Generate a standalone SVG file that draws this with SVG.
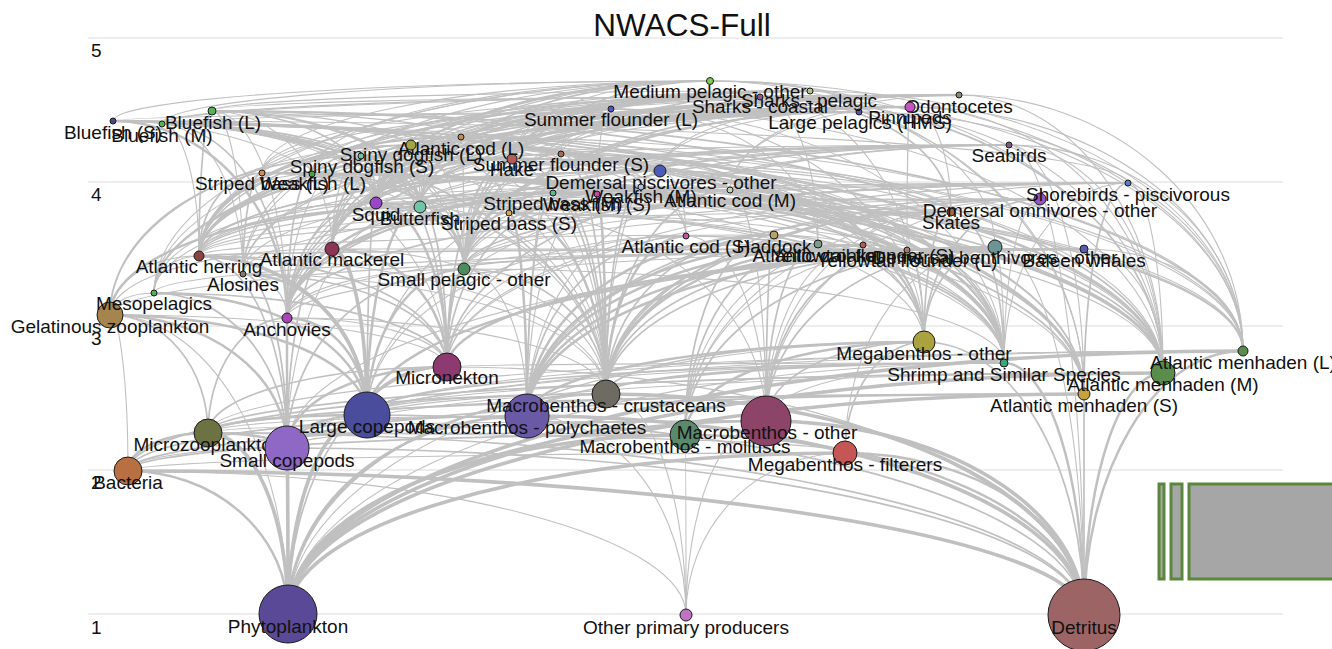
<svg xmlns="http://www.w3.org/2000/svg" width="1332" height="649" viewBox="0 0 1332 649">
<style>
.grid line{stroke:#dcdcdc;stroke-width:1}
.edges path{fill:none;stroke:#c0c0c0}
.w1{stroke-width:1.1}
.w2{stroke-width:1.7}
.w3{stroke-width:2.5}
.w4{stroke-width:3.6}
.node circle{stroke:#1a1a1a;stroke-width:1}
text{font-family:"Liberation Sans",Arial,Helvetica,sans-serif;fill:#111}
.lb{font-size:19px;text-anchor:middle}
.ax{font-size:19px}
.leg rect{fill:#a6a6a6;stroke:#5a873c;stroke-width:3}
</style>
<rect width="1332" height="649" fill="#fff"/>
<g class="grid">
<line x1="88" y1="38" x2="1283" y2="38"/>
<line x1="88" y1="182" x2="1283" y2="182"/>
<line x1="88" y1="326" x2="1283" y2="326"/>
<line x1="88" y1="470" x2="1283" y2="470"/>
<line x1="88" y1="614" x2="1283" y2="614"/>
</g>
<g class="axis">
<text class="ax" x="91" y="57">5</text>
<text class="ax" x="91" y="201">4</text>
<text class="ax" x="91" y="345">3</text>
<text class="ax" x="91" y="489">2</text>
<text class="ax" x="91" y="634">1</text>
</g>
<text x="682" y="36" font-size="31.5" text-anchor="middle">NWACS-Full</text>
<g class="leg">
<rect x="1159" y="484" width="5" height="95"/>
<rect x="1171" y="484" width="11" height="95"/>
<rect x="1189" y="484" width="160" height="95"/>
</g>
<g class="edges" id="connectors">
<path class="w4" d="M1084 615A956 144 0 0 0 128 471"/>
<path class="w3" d="M288 614A160 143 0 0 0 128 471"/>
<path class="w1" d="M686 615A558 144 0 0 0 128 471"/>
<path class="w4" d="M288 614A80 181 0 0 0 208 433"/>
<path class="w3" d="M128 471A80 38 0 0 1 208 433"/>
<path class="w2" d="M1084 615A876 182 0 0 0 208 433"/>
<path class="w4" d="M288 614A1 166 0 0 0 287 448"/>
<path class="w3" d="M287 448A79 15 0 0 0 208 433"/>
<path class="w2" d="M1084 615A797 167 0 0 0 287 448"/>
<path class="w1" d="M128 471A159 23 0 0 1 287 448"/>
<path class="w4" d="M288 614A79 199 0 0 1 367 415"/>
<path class="w3" d="M208 433A159 18 0 0 1 367 415"/>
<path class="w2" d="M287 448A80 33 0 0 1 367 415"/>
<path class="w2" d="M1084 615A717 200 0 0 0 367 415"/>
<path class="w3" d="M287 448A177 133 0 0 0 110 315"/>
<path class="w3" d="M367 415A257 100 0 0 0 110 315"/>
<path class="w2" d="M208 433A98 118 0 0 0 110 315"/>
<path class="w1" d="M288 614A178 299 0 0 0 110 315"/>
<path class="w1" d="M128 471A18 156 0 0 0 110 315"/>
<path class="w1" d="M447 367A337 52 0 0 0 110 315"/>
<path class="w3" d="M287 448A160 81 0 0 1 447 367"/>
<path class="w3" d="M367 415A80 48 0 0 1 447 367"/>
<path class="w2" d="M288 614A159 247 0 0 1 447 367"/>
<path class="w2" d="M208 433A239 66 0 0 1 447 367"/>
<path class="w1" d="M1084 615A637 248 0 0 0 447 367"/>
<path class="w4" d="M1084 615A557 199 0 0 0 527 416"/>
<path class="w3" d="M288 614A239 198 0 0 1 527 416"/>
<path class="w2" d="M128 471A399 55 0 0 1 527 416"/>
<path class="w1" d="M208 433A319 17 0 0 1 527 416"/>
<path class="w1" d="M686 615A159 199 0 0 0 527 416"/>
<path class="w1" d="M287 448A240 32 0 0 1 527 416"/>
<path class="w4" d="M1084 615A478 221 0 0 0 606 394"/>
<path class="w3" d="M288 614A318 220 0 0 1 606 394"/>
<path class="w2" d="M128 471A478 77 0 0 1 606 394"/>
<path class="w1" d="M527 416A79 22 0 0 1 606 394"/>
<path class="w1" d="M686 615A80 221 0 0 0 606 394"/>
<path class="w1" d="M287 448A319 54 0 0 1 606 394"/>
<path class="w1" d="M367 415A239 21 0 0 1 606 394"/>
<path class="w4" d="M288 614A397 179 0 0 1 685 435"/>
<path class="w3" d="M1084 615A399 180 0 0 0 685 435"/>
<path class="w2" d="M128 471A557 36 0 0 1 685 435"/>
<path class="w1" d="M686 615A1 180 0 0 0 685 435"/>
<path class="w1" d="M685 435A477 2 0 0 0 208 433"/>
<path class="w4" d="M1084 615A318 194 0 0 0 766 421"/>
<path class="w3" d="M288 614A478 193 0 0 1 766 421"/>
<path class="w2" d="M128 471A638 50 0 0 1 766 421"/>
<path class="w1" d="M686 615A80 194 0 0 1 766 421"/>
<path class="w1" d="M208 433A558 12 0 0 1 766 421"/>
<path class="w1" d="M287 448A479 27 0 0 1 766 421"/>
<path class="w4" d="M288 614A557 161 0 0 1 845 453"/>
<path class="w3" d="M1084 615A239 162 0 0 0 845 453"/>
<path class="w1" d="M128 471A717 18 0 0 1 845 453"/>
<path class="w1" d="M845 453A637 20 0 0 0 208 433"/>
<path class="w1" d="M686 615A159 162 0 0 1 845 453"/>
<path class="w3" d="M527 416A397 74 0 0 1 924 342"/>
<path class="w2" d="M606 394A318 52 0 0 1 924 342"/>
<path class="w3" d="M685 435A239 93 0 0 1 924 342"/>
<path class="w2" d="M766 421A158 79 0 0 1 924 342"/>
<path class="w2" d="M1084 615A160 273 0 0 0 924 342"/>
<path class="w2" d="M845 453A79 111 0 0 1 924 342"/>
<path class="w1" d="M288 614A636 272 0 0 1 924 342"/>
<path class="w3" d="M1084 615A80 252 0 0 0 1004 363"/>
<path class="w2" d="M527 416A477 53 0 0 1 1004 363"/>
<path class="w2" d="M606 394A398 31 0 0 1 1004 363"/>
<path class="w2" d="M367 415A637 52 0 0 1 1004 363"/>
<path class="w1" d="M287 448A717 85 0 0 1 1004 363"/>
<path class="w1" d="M288 614A716 251 0 0 1 1004 363"/>
<path class="w1" d="M766 421A238 58 0 0 1 1004 363"/>
<path class="w1" d="M447 367A557 4 0 0 1 1004 363"/>
<path class="w4" d="M288 614A796 220 0 0 1 1084 394"/>
<path class="w2" d="M1084 615L1084 394"/>
<path class="w2" d="M208 433A876 39 0 0 1 1084 394"/>
<path class="w2" d="M287 448A797 54 0 0 1 1084 394"/>
<path class="w1" d="M367 415A717 21 0 0 1 1084 394"/>
<path class="w4" d="M288 614A875 241 0 0 1 1163 373"/>
<path class="w3" d="M1084 615A79 242 0 0 1 1163 373"/>
<path class="w2" d="M208 433A955 60 0 0 1 1163 373"/>
<path class="w1" d="M287 448A876 75 0 0 1 1163 373"/>
<path class="w1" d="M367 415A796 42 0 0 1 1163 373"/>
<path class="w4" d="M288 614A955 263 0 0 1 1243 351"/>
<path class="w3" d="M1084 615A159 264 0 0 1 1243 351"/>
<path class="w1" d="M208 433A1035 82 0 0 1 1243 351"/>
<path class="w1" d="M287 448A956 97 0 0 1 1243 351"/>
<path class="w1" d="M367 415A876 64 0 0 1 1243 351"/>
<path class="w3" d="M367 415A213 122 0 0 0 154 293"/>
<path class="w2" d="M287 448A133 155 0 0 0 154 293"/>
<path class="w2" d="M447 367A293 74 0 0 0 154 293"/>
<path class="w1" d="M110 315A44 22 0 0 1 154 293"/>
<path class="w3" d="M287 448L287 318"/>
<path class="w3" d="M367 415A80 97 0 0 0 287 318"/>
<path class="w2" d="M208 433A79 115 0 0 1 287 318"/>
<path class="w1" d="M447 367A160 49 0 0 0 287 318"/>
<path class="w1" d="M288 614A1 296 0 0 0 287 318"/>
<path class="w1" d="M606 394A319 76 0 0 0 287 318"/>
<path class="w4" d="M367 415A168 159 0 0 0 199 256"/>
<path class="w2" d="M287 448A88 192 0 0 0 199 256"/>
<path class="w2" d="M447 367A248 111 0 0 0 199 256"/>
<path class="w1" d="M110 315A89 59 0 0 1 199 256"/>
<path class="w1" d="M606 394A407 138 0 0 0 199 256"/>
<path class="w1" d="M154 293A45 37 0 0 1 199 256"/>
<path class="w3" d="M367 415A124 141 0 0 0 243 274"/>
<path class="w2" d="M287 448A44 174 0 0 0 243 274"/>
<path class="w2" d="M447 367A204 93 0 0 0 243 274"/>
<path class="w1" d="M606 394A363 120 0 0 0 243 274"/>
<path class="w1" d="M287 318A44 44 0 0 0 243 274"/>
<path class="w4" d="M367 415A35 166 0 0 0 332 249"/>
<path class="w2" d="M287 448A45 199 0 0 1 332 249"/>
<path class="w3" d="M447 367A115 118 0 0 0 332 249"/>
<path class="w1" d="M110 315A222 66 0 0 1 332 249"/>
<path class="w1" d="M287 318A45 69 0 0 1 332 249"/>
<path class="w1" d="M332 249A44 46 0 0 1 376 203"/>
<path class="w1" d="M606 394A274 145 0 0 0 332 249"/>
<path class="w3" d="M367 415A97 146 0 0 1 464 269"/>
<path class="w2" d="M287 448A177 179 0 0 1 464 269"/>
<path class="w2" d="M447 367A17 98 0 0 1 464 269"/>
<path class="w2" d="M606 394A142 125 0 0 0 464 269"/>
<path class="w1" d="M527 416A63 147 0 0 0 464 269"/>
<path class="w1" d="M287 318A177 49 0 0 1 464 269"/>
<path class="w1" d="M1004 363A540 94 0 0 0 464 269"/>
<path class="w3" d="M447 367A71 164 0 0 0 376 203"/>
<path class="w2" d="M367 415A9 212 0 0 1 376 203"/>
<path class="w2" d="M287 318A89 115 0 0 1 376 203"/>
<path class="w1" d="M199 256A177 53 0 0 1 376 203"/>
<path class="w2" d="M464 269A88 66 0 0 0 376 203"/>
<path class="w1" d="M420 207A44 4 0 0 0 376 203"/>
<path class="w1" d="M606 394A230 191 0 0 0 376 203"/>
<path class="w1" d="M1004 363A628 160 0 0 0 376 203"/>
<path class="w1" d="M154 293A222 90 0 0 1 376 203"/>
<path class="w3" d="M367 415A53 208 0 0 1 420 207"/>
<path class="w3" d="M110 315A310 108 0 0 1 420 207"/>
<path class="w2" d="M447 367A27 160 0 0 0 420 207"/>
<path class="w1" d="M287 448A133 241 0 0 1 420 207"/>
<path class="w1" d="M606 394A186 187 0 0 0 420 207"/>
<path class="w1" d="M287 318A133 111 0 0 1 420 207"/>
<path class="w3" d="M527 416A18 203 0 0 0 509 213"/>
<path class="w3" d="M606 394A97 181 0 0 0 509 213"/>
<path class="w2" d="M1004 363A495 150 0 0 0 509 213"/>
<path class="w2" d="M287 318A222 105 0 0 1 509 213"/>
<path class="w1" d="M447 367A62 154 0 0 1 509 213"/>
<path class="w1" d="M1084 394A575 181 0 0 0 509 213"/>
<path class="w1" d="M766 421A257 208 0 0 0 509 213"/>
<path class="w1" d="M1163 373A654 160 0 0 0 509 213"/>
<path class="w2" d="M1084 394A531 201 0 0 0 553 193"/>
<path class="w2" d="M1163 373A610 180 0 0 0 553 193"/>
<path class="w1" d="M1243 351A690 158 0 0 0 553 193"/>
<path class="w2" d="M287 318A266 125 0 0 1 553 193"/>
<path class="w2" d="M606 394A53 201 0 0 0 553 193"/>
<path class="w2" d="M527 416A26 223 0 0 1 553 193"/>
<path class="w1" d="M1004 363A451 170 0 0 0 553 193"/>
<path class="w1" d="M199 256A354 63 0 0 1 553 193"/>
<path class="w1" d="M243 274A310 81 0 0 1 553 193"/>
<path class="w1" d="M464 269A89 76 0 0 1 553 193"/>
<path class="w3" d="M1163 373A901 200 0 0 0 262 173"/>
<path class="w2" d="M1243 351A981 178 0 0 0 262 173"/>
<path class="w2" d="M199 256A63 83 0 0 1 262 173"/>
<path class="w2" d="M243 274A19 101 0 0 1 262 173"/>
<path class="w1" d="M376 203A114 30 0 0 0 262 173"/>
<path class="w1" d="M464 269A202 96 0 0 0 262 173"/>
<path class="w1" d="M606 394A344 221 0 0 0 262 173"/>
<path class="w1" d="M924 342A662 169 0 0 0 262 173"/>
<path class="w1" d="M420 207A158 34 0 0 0 262 173"/>
<path class="w3" d="M606 394A9 200 0 0 0 597 194"/>
<path class="w3" d="M1004 363A407 169 0 0 0 597 194"/>
<path class="w2" d="M447 367A150 173 0 0 1 597 194"/>
<path class="w2" d="M287 318A310 124 0 0 1 597 194"/>
<path class="w1" d="M527 416A70 222 0 0 1 597 194"/>
<path class="w1" d="M367 415A230 221 0 0 1 597 194"/>
<path class="w3" d="M287 318A354 131 0 0 1 641 187"/>
<path class="w2" d="M1004 363A363 176 0 0 0 641 187"/>
<path class="w2" d="M606 394A35 207 0 0 1 641 187"/>
<path class="w2" d="M1084 394A443 207 0 0 0 641 187"/>
<path class="w1" d="M1163 373A522 186 0 0 0 641 187"/>
<path class="w1" d="M464 269A177 82 0 0 1 641 187"/>
<path class="w1" d="M420 207A221 20 0 0 1 641 187"/>
<path class="w1" d="M376 203A265 16 0 0 1 641 187"/>
<path class="w2" d="M287 318A25 144 0 0 1 312 174"/>
<path class="w2" d="M1084 394A772 220 0 0 0 312 174"/>
<path class="w2" d="M1163 373A851 199 0 0 0 312 174"/>
<path class="w1" d="M1243 351A931 177 0 0 0 312 174"/>
<path class="w2" d="M420 207A108 33 0 0 0 312 174"/>
<path class="w2" d="M376 203A64 29 0 0 0 312 174"/>
<path class="w1" d="M464 269A152 95 0 0 0 312 174"/>
<path class="w1" d="M1004 363A692 189 0 0 0 312 174"/>
<path class="w1" d="M199 256A113 82 0 0 1 312 174"/>
<path class="w3" d="M287 318A174 197 0 0 0 113 121"/>
<path class="w2" d="M464 269A351 148 0 0 0 113 121"/>
<path class="w2" d="M1004 363A891 242 0 0 0 113 121"/>
<path class="w2" d="M606 394A493 273 0 0 0 113 121"/>
<path class="w2" d="M1084 394A971 273 0 0 0 113 121"/>
<path class="w1" d="M1163 373A1050 252 0 0 0 113 121"/>
<path class="w1" d="M376 203A263 82 0 0 0 113 121"/>
<path class="w1" d="M420 207A307 86 0 0 0 113 121"/>
<path class="w1" d="M447 367A334 246 0 0 0 113 121"/>
<path class="w2" d="M287 318A125 194 0 0 0 162 124"/>
<path class="w2" d="M420 207A258 83 0 0 0 162 124"/>
<path class="w2" d="M376 203A214 79 0 0 0 162 124"/>
<path class="w2" d="M1084 394A922 270 0 0 0 162 124"/>
<path class="w2" d="M1163 373A1001 249 0 0 0 162 124"/>
<path class="w1" d="M1243 351A1081 227 0 0 0 162 124"/>
<path class="w2" d="M464 269A302 145 0 0 0 162 124"/>
<path class="w1" d="M199 256A37 132 0 0 0 162 124"/>
<path class="w1" d="M243 274A81 150 0 0 0 162 124"/>
<path class="w1" d="M1004 363A842 239 0 0 0 162 124"/>
<path class="w2" d="M1163 373A951 262 0 0 0 212 111"/>
<path class="w2" d="M1243 351A1031 240 0 0 0 212 111"/>
<path class="w2" d="M376 203A164 92 0 0 0 212 111"/>
<path class="w2" d="M420 207A208 96 0 0 0 212 111"/>
<path class="w2" d="M199 256A13 145 0 0 1 212 111"/>
<path class="w1" d="M332 249A120 138 0 0 0 212 111"/>
<path class="w1" d="M243 274A31 163 0 0 0 212 111"/>
<path class="w1" d="M287 318A75 207 0 0 0 212 111"/>
<path class="w1" d="M464 269A252 158 0 0 0 212 111"/>
<path class="w1" d="M597 194A385 83 0 0 0 212 111"/>
<path class="w1" d="M509 213A297 102 0 0 0 212 111"/>
<path class="w3" d="M606 394A80 158 0 0 1 686 236"/>
<path class="w2" d="M527 416A159 180 0 0 1 686 236"/>
<path class="w2" d="M1004 363A318 127 0 0 0 686 236"/>
<path class="w1" d="M367 415A319 179 0 0 1 686 236"/>
<path class="w1" d="M766 421A80 185 0 0 0 686 236"/>
<path class="w1" d="M447 367A239 131 0 0 1 686 236"/>
<path class="w2" d="M606 394A124 204 0 0 1 730 190"/>
<path class="w2" d="M924 342A194 152 0 0 0 730 190"/>
<path class="w2" d="M199 256A531 66 0 0 1 730 190"/>
<path class="w1" d="M464 269A266 79 0 0 1 730 190"/>
<path class="w1" d="M376 203A354 13 0 0 1 730 190"/>
<path class="w1" d="M527 416A203 226 0 0 1 730 190"/>
<path class="w1" d="M1004 363A274 173 0 0 0 730 190"/>
<path class="w1" d="M420 207A310 17 0 0 1 730 190"/>
<path class="w1" d="M766 421A36 231 0 0 0 730 190"/>
<path class="w3" d="M199 256A262 119 0 0 1 461 137"/>
<path class="w2" d="M924 342A463 205 0 0 0 461 137"/>
<path class="w2" d="M376 203A85 66 0 0 1 461 137"/>
<path class="w1" d="M332 249A129 112 0 0 1 461 137"/>
<path class="w1" d="M512 159A51 22 0 0 0 461 137"/>
<path class="w1" d="M464 269A3 132 0 0 0 461 137"/>
<path class="w1" d="M420 207A41 70 0 0 1 461 137"/>
<path class="w1" d="M686 236A225 99 0 0 0 461 137"/>
<path class="w1" d="M606 394A145 257 0 0 0 461 137"/>
<path class="w1" d="M863 245A402 108 0 0 0 461 137"/>
<path class="w1" d="M1243 351A782 214 0 0 0 461 137"/>
<path class="w3" d="M527 416A247 181 0 0 1 774 235"/>
<path class="w2" d="M766 421A8 186 0 0 1 774 235"/>
<path class="w2" d="M606 394A168 159 0 0 1 774 235"/>
<path class="w2" d="M924 342A150 107 0 0 0 774 235"/>
<path class="w2" d="M685 435A89 200 0 0 1 774 235"/>
<path class="w1" d="M1004 363A230 128 0 0 0 774 235"/>
<path class="w1" d="M199 256A575 21 0 0 1 774 235"/>
<path class="w3" d="M527 416A291 172 0 0 1 818 244"/>
<path class="w2" d="M606 394A212 150 0 0 1 818 244"/>
<path class="w2" d="M685 435A133 191 0 0 1 818 244"/>
<path class="w2" d="M766 421A52 177 0 0 1 818 244"/>
<path class="w1" d="M1004 363A186 119 0 0 0 818 244"/>
<path class="w1" d="M287 318A531 74 0 0 1 818 244"/>
<path class="w3" d="M527 416A336 171 0 0 1 863 245"/>
<path class="w3" d="M606 394A257 149 0 0 1 863 245"/>
<path class="w1" d="M766 421A97 176 0 0 1 863 245"/>
<path class="w1" d="M1004 363A141 118 0 0 0 863 245"/>
<path class="w1" d="M685 435A178 190 0 0 1 863 245"/>
<path class="w3" d="M527 416A380 166 0 0 1 907 250"/>
<path class="w2" d="M606 394A301 144 0 0 1 907 250"/>
<path class="w2" d="M766 421A141 171 0 0 1 907 250"/>
<path class="w1" d="M1004 363A97 113 0 0 0 907 250"/>
<path class="w1" d="M685 435A222 185 0 0 1 907 250"/>
<path class="w1" d="M924 342A17 92 0 0 0 907 250"/>
<path class="w3" d="M527 416A468 169 0 0 1 995 247"/>
<path class="w2" d="M606 394A389 147 0 0 1 995 247"/>
<path class="w2" d="M766 421A229 174 0 0 1 995 247"/>
<path class="w2" d="M685 435A310 188 0 0 1 995 247"/>
<path class="w2" d="M924 342A71 95 0 0 1 995 247"/>
<path class="w1" d="M845 453A150 206 0 0 1 995 247"/>
<path class="w1" d="M1004 363A9 116 0 0 0 995 247"/>
<path class="w1" d="M1084 615A89 368 0 0 0 995 247"/>
<path class="w2" d="M924 342A27 130 0 0 1 951 212"/>
<path class="w2" d="M606 394A345 182 0 0 1 951 212"/>
<path class="w2" d="M527 416A424 204 0 0 1 951 212"/>
<path class="w2" d="M1004 363A53 151 0 0 0 951 212"/>
<path class="w1" d="M199 256A752 44 0 0 1 951 212"/>
<path class="w1" d="M464 269A487 57 0 0 1 951 212"/>
<path class="w1" d="M951 212A575 9 0 0 0 376 203"/>
<path class="w1" d="M951 212A439 53 0 0 0 512 159"/>
<path class="w1" d="M951 212A531 5 0 0 0 420 207"/>
<path class="w1" d="M951 212A590 56 0 0 0 361 156"/>
<path class="w1" d="M766 421A185 209 0 0 1 951 212"/>
<path class="w1" d="M863 245A88 33 0 0 1 951 212"/>
<path class="w2" d="M606 394A434 195 0 0 1 1040 199"/>
<path class="w2" d="M924 342A116 143 0 0 1 1040 199"/>
<path class="w1" d="M527 416A513 217 0 0 1 1040 199"/>
<path class="w1" d="M376 203A664 4 0 0 1 1040 199"/>
<path class="w1" d="M464 269A576 70 0 0 1 1040 199"/>
<path class="w1" d="M1004 363A36 164 0 0 1 1040 199"/>
<path class="w1" d="M766 421A274 222 0 0 1 1040 199"/>
<path class="w1" d="M685 435A355 236 0 0 1 1040 199"/>
<path class="w1" d="M199 256A841 57 0 0 1 1040 199"/>
<path class="w1" d="M447 367A593 168 0 0 1 1040 199"/>
<path class="w2" d="M199 256A461 85 0 0 1 660 171"/>
<path class="w2" d="M464 269A196 98 0 0 1 660 171"/>
<path class="w2" d="M376 203A284 32 0 0 1 660 171"/>
<path class="w1" d="M420 207A240 36 0 0 1 660 171"/>
<path class="w1" d="M660 171A148 12 0 0 0 512 159"/>
<path class="w1" d="M606 394A54 223 0 0 1 660 171"/>
<path class="w1" d="M1004 363A344 192 0 0 0 660 171"/>
<path class="w1" d="M287 318A373 147 0 0 1 660 171"/>
<path class="w1" d="M924 342A264 171 0 0 0 660 171"/>
<path class="w1" d="M686 236A26 65 0 0 0 660 171"/>
<path class="w1" d="M863 245A203 74 0 0 0 660 171"/>
<path class="w1" d="M1163 373A503 202 0 0 0 660 171"/>
<path class="w2" d="M447 367A65 208 0 0 1 512 159"/>
<path class="w2" d="M1004 363A492 204 0 0 0 512 159"/>
<path class="w2" d="M199 256A313 97 0 0 1 512 159"/>
<path class="w2" d="M376 203A136 44 0 0 1 512 159"/>
<path class="w1" d="M420 207A92 48 0 0 1 512 159"/>
<path class="w1" d="M332 249A180 90 0 0 1 512 159"/>
<path class="w2" d="M606 394A94 235 0 0 0 512 159"/>
<path class="w1" d="M464 269A48 110 0 0 1 512 159"/>
<path class="w1" d="M287 318A225 159 0 0 1 512 159"/>
<path class="w1" d="M154 293A358 134 0 0 1 512 159"/>
<path class="w1" d="M1084 394A572 235 0 0 0 512 159"/>
<path class="w2" d="M606 394A45 240 0 0 0 561 154"/>
<path class="w2" d="M1004 363A443 209 0 0 0 561 154"/>
<path class="w2" d="M287 318A274 164 0 0 1 561 154"/>
<path class="w1" d="M376 203A185 49 0 0 1 561 154"/>
<path class="w1" d="M464 269A97 115 0 0 1 561 154"/>
<path class="w1" d="M527 416A34 262 0 0 1 561 154"/>
<path class="w1" d="M924 342A363 188 0 0 0 561 154"/>
<path class="w1" d="M447 367A114 213 0 0 1 561 154"/>
<path class="w2" d="M376 203A235 94 0 0 1 611 109"/>
<path class="w2" d="M464 269A147 160 0 0 1 611 109"/>
<path class="w1" d="M287 318A324 209 0 0 1 611 109"/>
<path class="w1" d="M420 207A191 98 0 0 1 611 109"/>
<path class="w1" d="M199 256A412 147 0 0 1 611 109"/>
<path class="w1" d="M924 342A313 233 0 0 0 611 109"/>
<path class="w1" d="M1004 363A393 254 0 0 0 611 109"/>
<path class="w1" d="M512 159A99 50 0 0 1 611 109"/>
<path class="w1" d="M561 154A50 45 0 0 1 611 109"/>
<path class="w1" d="M1163 373A552 264 0 0 0 611 109"/>
<path class="w1" d="M597 194A14 85 0 0 1 611 109"/>
<path class="w1" d="M818 244A207 135 0 0 0 611 109"/>
<path class="w2" d="M376 203A15 47 0 0 0 361 156"/>
<path class="w2" d="M447 367A86 211 0 0 0 361 156"/>
<path class="w2" d="M110 315A251 159 0 0 1 361 156"/>
<path class="w1" d="M606 394A245 238 0 0 0 361 156"/>
<path class="w1" d="M199 256A162 100 0 0 1 361 156"/>
<path class="w1" d="M464 269A103 113 0 0 0 361 156"/>
<path class="w1" d="M420 207A59 51 0 0 0 361 156"/>
<path class="w1" d="M287 318A74 162 0 0 1 361 156"/>
<path class="w1" d="M1004 363A643 207 0 0 0 361 156"/>
<path class="w1" d="M332 249A29 93 0 0 1 361 156"/>
<path class="w1" d="M1163 373A802 217 0 0 0 361 156"/>
<path class="w2" d="M199 256A212 111 0 0 1 411 145"/>
<path class="w2" d="M376 203A35 58 0 0 1 411 145"/>
<path class="w2" d="M332 249A79 104 0 0 1 411 145"/>
<path class="w1" d="M420 207A9 62 0 0 0 411 145"/>
<path class="w1" d="M464 269A53 124 0 0 0 411 145"/>
<path class="w1" d="M110 315A301 170 0 0 1 411 145"/>
<path class="w1" d="M512 159A101 14 0 0 0 411 145"/>
<path class="w1" d="M686 236A275 91 0 0 0 411 145"/>
<path class="w1" d="M924 342A513 197 0 0 0 411 145"/>
<path class="w1" d="M606 394A195 249 0 0 0 411 145"/>
<path class="w1" d="M243 274A168 129 0 0 1 411 145"/>
<path class="w1" d="M1243 351A832 206 0 0 0 411 145"/>
<path class="w1" d="M361 156A50 11 0 0 1 411 145"/>
<path class="w1" d="M411 145A298 24 0 0 0 113 121"/>
<path class="w1" d="M641 187A230 42 0 0 0 411 145"/>
<path class="w1" d="M907 250A496 105 0 0 0 411 145"/>
<path class="w2" d="M376 203A334 122 0 0 1 710 81"/>
<path class="w2" d="M420 207A290 126 0 0 1 710 81"/>
<path class="w1" d="M199 256A511 175 0 0 1 710 81"/>
<path class="w2" d="M332 249A378 168 0 0 1 710 81"/>
<path class="w2" d="M464 269A246 188 0 0 1 710 81"/>
<path class="w1" d="M287 318A423 237 0 0 1 710 81"/>
<path class="w1" d="M1084 394A374 313 0 0 0 710 81"/>
<path class="w1" d="M1163 373A453 292 0 0 0 710 81"/>
<path class="w1" d="M1243 351A533 270 0 0 0 710 81"/>
<path class="w1" d="M113 121A597 40 0 0 1 710 81"/>
<path class="w1" d="M162 124A548 43 0 0 1 710 81"/>
<path class="w1" d="M312 174A398 93 0 0 1 710 81"/>
<path class="w1" d="M262 173A448 92 0 0 1 710 81"/>
<path class="w1" d="M512 159A198 78 0 0 1 710 81"/>
<path class="w1" d="M243 274A467 193 0 0 1 710 81"/>
<path class="w1" d="M154 293A556 212 0 0 1 710 81"/>
<path class="w2" d="M1163 373A403 276 0 0 0 760 97"/>
<path class="w1" d="M1243 351A483 254 0 0 0 760 97"/>
<path class="w1" d="M1084 394A324 297 0 0 0 760 97"/>
<path class="w2" d="M951 212A191 115 0 0 0 760 97"/>
<path class="w1" d="M162 124A598 27 0 0 1 760 97"/>
<path class="w1" d="M212 111A548 14 0 0 1 760 97"/>
<path class="w1" d="M312 174A448 77 0 0 1 760 97"/>
<path class="w1" d="M262 173A498 76 0 0 1 760 97"/>
<path class="w1" d="M376 203A384 106 0 0 1 760 97"/>
<path class="w1" d="M199 256A561 159 0 0 1 760 97"/>
<path class="w1" d="M464 269A296 172 0 0 1 760 97"/>
<path class="w1" d="M995 247A235 150 0 0 0 760 97"/>
<path class="w1" d="M818 244A58 147 0 0 0 760 97"/>
<path class="w1" d="M361 156A399 59 0 0 1 760 97"/>
<path class="w1" d="M611 109A149 12 0 0 1 760 97"/>
<path class="w1" d="M924 342A164 245 0 0 0 760 97"/>
<path class="w1" d="M512 159A248 62 0 0 1 760 97"/>
<path class="w1" d="M420 207A340 110 0 0 1 760 97"/>
<path class="w1" d="M332 249A428 152 0 0 1 760 97"/>
<path class="w3" d="M376 203A434 112 0 0 1 810 91"/>
<path class="w2" d="M332 249A478 158 0 0 1 810 91"/>
<path class="w1" d="M212 111A598 20 0 0 1 810 91"/>
<path class="w1" d="M199 256A611 165 0 0 1 810 91"/>
<path class="w1" d="M810 91A100 10 0 0 0 710 81"/>
<path class="w1" d="M859 112A49 21 0 0 0 810 91"/>
<path class="w1" d="M411 145A399 54 0 0 1 810 91"/>
<path class="w1" d="M512 159A298 68 0 0 1 810 91"/>
<path class="w1" d="M420 207A390 116 0 0 1 810 91"/>
<path class="w1" d="M464 269A346 178 0 0 1 810 91"/>
<path class="w1" d="M154 293A656 202 0 0 1 810 91"/>
<path class="w1" d="M1243 351A433 260 0 0 0 810 91"/>
<path class="w3" d="M376 203A483 91 0 0 1 859 112"/>
<path class="w2" d="M332 249A527 137 0 0 1 859 112"/>
<path class="w2" d="M199 256A660 144 0 0 1 859 112"/>
<path class="w2" d="M420 207A439 95 0 0 1 859 112"/>
<path class="w1" d="M113 121A746 9 0 0 1 859 112"/>
<path class="w1" d="M162 124A697 12 0 0 1 859 112"/>
<path class="w1" d="M859 112A149 31 0 0 0 710 81"/>
<path class="w2" d="M464 269A395 157 0 0 1 859 112"/>
<path class="w1" d="M1163 373A304 261 0 0 0 859 112"/>
<path class="w1" d="M1243 351A384 239 0 0 0 859 112"/>
<path class="w1" d="M154 293A705 181 0 0 1 859 112"/>
<path class="w1" d="M287 318A572 206 0 0 1 859 112"/>
<path class="w1" d="M243 274A616 162 0 0 1 859 112"/>
<path class="w3" d="M199 256A711 149 0 0 1 910 107"/>
<path class="w2" d="M376 203A534 96 0 0 1 910 107"/>
<path class="w2" d="M512 159A398 52 0 0 1 910 107"/>
<path class="w1" d="M332 249A578 142 0 0 1 910 107"/>
<path class="w2" d="M464 269A446 162 0 0 1 910 107"/>
<path class="w1" d="M730 190A180 83 0 0 1 910 107"/>
<path class="w1" d="M461 137A449 30 0 0 1 910 107"/>
<path class="w1" d="M361 156A549 49 0 0 1 910 107"/>
<path class="w1" d="M420 207A490 100 0 0 1 910 107"/>
<path class="w1" d="M561 154A349 47 0 0 1 910 107"/>
<path class="w1" d="M660 171A250 64 0 0 1 910 107"/>
<path class="w1" d="M907 250A3 143 0 0 1 910 107"/>
<path class="w1" d="M243 274A667 167 0 0 1 910 107"/>
<path class="w1" d="M1243 351A333 244 0 0 0 910 107"/>
<path class="w1" d="M1163 373A253 266 0 0 0 910 107"/>
<path class="w1" d="M951 212A41 105 0 0 0 910 107"/>
<path class="w3" d="M376 203A583 108 0 0 1 959 95"/>
<path class="w2" d="M199 256A760 161 0 0 1 959 95"/>
<path class="w2" d="M332 249A627 154 0 0 1 959 95"/>
<path class="w1" d="M420 207A539 112 0 0 1 959 95"/>
<path class="w1" d="M512 159A447 64 0 0 1 959 95"/>
<path class="w2" d="M464 269A495 174 0 0 1 959 95"/>
<path class="w2" d="M154 293A805 198 0 0 1 959 95"/>
<path class="w1" d="M1243 351A284 256 0 0 0 959 95"/>
<path class="w1" d="M1163 373A204 278 0 0 0 959 95"/>
<path class="w1" d="M162 124A797 29 0 0 1 959 95"/>
<path class="w1" d="M312 174A647 79 0 0 1 959 95"/>
<path class="w1" d="M262 173A697 78 0 0 1 959 95"/>
<path class="w1" d="M243 274A716 179 0 0 1 959 95"/>
<path class="w1" d="M287 318A672 223 0 0 1 959 95"/>
<path class="w1" d="M730 190A229 95 0 0 1 959 95"/>
<path class="w1" d="M660 171A299 76 0 0 1 959 95"/>
<path class="w3" d="M367 415A717 166 0 0 1 1084 249"/>
<path class="w3" d="M447 367A637 118 0 0 1 1084 249"/>
<path class="w2" d="M199 256A885 7 0 0 1 1084 249"/>
<path class="w2" d="M464 269A620 20 0 0 1 1084 249"/>
<path class="w1" d="M287 318A797 69 0 0 1 1084 249"/>
<path class="w1" d="M332 249L1084 249"/>
<path class="w1" d="M287 448A797 199 0 0 1 1084 249"/>
<path class="w1" d="M1163 373A79 124 0 0 0 1084 249"/>
<path class="w1" d="M1243 351A159 102 0 0 0 1084 249"/>
<path class="w1" d="M154 293A930 44 0 0 1 1084 249"/>
<path class="w1" d="M110 315A974 66 0 0 1 1084 249"/>
<path class="w2" d="M287 318A722 173 0 0 1 1009 145"/>
<path class="w1" d="M199 256A810 111 0 0 1 1009 145"/>
<path class="w2" d="M464 269A545 124 0 0 1 1009 145"/>
<path class="w2" d="M376 203A633 58 0 0 1 1009 145"/>
<path class="w2" d="M447 367A562 222 0 0 1 1009 145"/>
<path class="w1" d="M1084 394A75 249 0 0 0 1009 145"/>
<path class="w1" d="M1163 373A154 228 0 0 0 1009 145"/>
<path class="w1" d="M1243 351A234 206 0 0 0 1009 145"/>
<path class="w1" d="M154 293A855 148 0 0 1 1009 145"/>
<path class="w1" d="M509 213A500 68 0 0 1 1009 145"/>
<path class="w1" d="M597 194A412 49 0 0 1 1009 145"/>
<path class="w1" d="M420 207A589 62 0 0 1 1009 145"/>
<path class="w1" d="M512 159A497 14 0 0 1 1009 145"/>
<path class="w1" d="M1084 615A75 470 0 0 0 1009 145"/>
<path class="w1" d="M367 415A642 270 0 0 1 1009 145"/>
<path class="w2" d="M287 318A841 135 0 0 1 1128 183"/>
<path class="w2" d="M1084 394A44 211 0 0 1 1128 183"/>
<path class="w1" d="M1163 373A35 190 0 0 0 1128 183"/>
<path class="w2" d="M464 269A664 86 0 0 1 1128 183"/>
<path class="w1" d="M1004 363A124 180 0 0 1 1128 183"/>
<path class="w1" d="M199 256A929 73 0 0 1 1128 183"/>
<path class="w1" d="M243 274A885 91 0 0 1 1128 183"/>
<path class="w1" d="M420 207A708 24 0 0 1 1128 183"/>
<path class="w1" d="M447 367A681 184 0 0 1 1128 183"/>
<path class="w1" d="M606 394A522 211 0 0 1 1128 183"/>
<path class="w1" d="M1128 183A1015 62 0 0 0 113 121"/>
<path class="w1" d="M597 194A531 11 0 0 1 1128 183"/>
</g>
<g class="nodes">
<g class="node" id="n-phyto"><circle cx="288" cy="614" r="29" fill="#5a4996"/><text class="lb" x="288" y="633">Phytoplankton</text></g>
<g class="node" id="n-opp"><circle cx="686" cy="615" r="6" fill="#c172c4"/><text class="lb" x="686" y="634">Other primary producers</text></g>
<g class="node" id="n-det"><circle cx="1084" cy="615" r="36" fill="#9c6464"/><text class="lb" x="1084" y="634">Detritus</text></g>
<g class="node" id="n-bact"><circle cx="128" cy="471" r="14" fill="#b87043"/><text class="lb" x="128" y="489">Bacteria</text></g>
<g class="node" id="n-micro"><circle cx="208" cy="433" r="14" fill="#6c7242"/><text class="lb" x="208" y="451">Microzooplankton</text></g>
<g class="node" id="n-scop"><circle cx="287" cy="448" r="22" fill="#8e68c4"/><text class="lb" x="287" y="467">Small copepods</text></g>
<g class="node" id="n-lcop"><circle cx="367" cy="415" r="23" fill="#4a4c9c"/><text class="lb" x="367" y="433">Large copepods</text></g>
<g class="node" id="n-gel"><circle cx="110" cy="315" r="13" fill="#a6844e"/><text class="lb" x="110" y="333">Gelatinous zooplankton</text></g>
<g class="node" id="n-micron"><circle cx="447" cy="367" r="14" fill="#8c3a70"/><text class="lb" x="447" y="384">Micronekton</text></g>
<g class="node" id="n-mpoly"><circle cx="527" cy="416" r="22" fill="#6a5aa6"/><text class="lb" x="527" y="434">Macrobenthos - polychaetes</text></g>
<g class="node" id="n-mcrus"><circle cx="606" cy="394" r="14" fill="#6e6b62"/><text class="lb" x="606" y="412">Macrobenthos - crustaceans</text></g>
<g class="node" id="n-mmoll"><circle cx="685" cy="435" r="15" fill="#5a8a6c"/><text class="lb" x="685" y="453">Macrobenthos - molluscs</text></g>
<g class="node" id="n-mother"><circle cx="766" cy="421" r="25" fill="#8c4468"/><text class="lb" x="767" y="439">Macrobenthos - other</text></g>
<g class="node" id="n-megaf"><circle cx="845" cy="453" r="12" fill="#c45656"/><text class="lb" x="845" y="471">Megabenthos - filterers</text></g>
<g class="node" id="n-megao"><circle cx="924" cy="342" r="11" fill="#aaa23e"/><text class="lb" x="924" y="360">Megabenthos - other</text></g>
<g class="node" id="n-shrimp"><circle cx="1004" cy="363" r="4" fill="#3aa67c"/><text class="lb" x="1004" y="381">Shrimp and Similar Species</text></g>
<g class="node" id="n-menS"><circle cx="1084" cy="394" r="6" fill="#c4a23e"/><text class="lb" x="1084" y="412">Atlantic menhaden (S)</text></g>
<g class="node" id="n-menM"><circle cx="1163" cy="373" r="12" fill="#5a8c4c"/><text class="lb" x="1163" y="391">Atlantic menhaden (M)</text></g>
<g class="node" id="n-menL"><circle cx="1243" cy="351" r="5" fill="#5a8c4c"/><text class="lb" x="1243" y="369">Atlantic menhaden (L)</text></g>
<g class="node" id="n-meso"><circle cx="154" cy="293" r="3" fill="#52b052"/><text class="lb" x="154" y="310">Mesopelagics</text></g>
<g class="node" id="n-anch"><circle cx="287" cy="318" r="5" fill="#a846b8"/><text class="lb" x="287" y="336">Anchovies</text></g>
<g class="node" id="n-herr"><circle cx="199" cy="256" r="5" fill="#8c4444"/><text class="lb" x="199" y="273">Atlantic herring</text></g>
<g class="node" id="n-alos"><circle cx="243" cy="274" r="3" fill="#7a7a72"/><text class="lb" x="243" y="291">Alosines</text></g>
<g class="node" id="n-mack"><circle cx="332" cy="249" r="7" fill="#8c3454"/><text class="lb" x="332" y="266">Atlantic mackerel</text></g>
<g class="node" id="n-spel"><circle cx="464" cy="269" r="6" fill="#4c8c5c"/><text class="lb" x="464" y="286">Small pelagic - other</text></g>
<g class="node" id="n-squid"><circle cx="376" cy="203" r="6" fill="#9a46c8"/><text class="lb" x="376" y="221">Squid</text></g>
<g class="node" id="n-butter"><circle cx="420" cy="207" r="6" fill="#72c4a6"/><text class="lb" x="420" y="225">Butterfish</text></g>
<g class="node" id="n-sbS"><circle cx="509" cy="213" r="3" fill="#d4a656"/><text class="lb" x="509" y="230">Striped bass (S)</text></g>
<g class="node" id="n-codS"><circle cx="686" cy="236" r="3" fill="#c454a8"/><text class="lb" x="686" y="253">Atlantic cod (S)</text></g>
<g class="node" id="n-hadd"><circle cx="774" cy="235" r="4" fill="#b4a466"/><text class="lb" x="774" y="253">Haddock</text></g>
<g class="node" id="n-croak"><circle cx="818" cy="244" r="4" fill="#7c9c8c"/><text class="lb" x="818" y="262">Atlantic croaker</text></g>
<g class="node" id="n-ytS"><circle cx="863" cy="245" r="3" fill="#b45c5c"/><text class="lb" x="863" y="262">Yellowtail flounder (S)</text></g>
<g class="node" id="n-ytL"><circle cx="907" cy="250" r="3" fill="#9c7c6c"/><text class="lb" x="907" y="267">Yellowtail flounder (L)</text></g>
<g class="node" id="n-dben"><circle cx="995" cy="247" r="7" fill="#6c9494"/><text class="lb" x="995" y="264">Demersal benthivores - other</text></g>
<g class="node" id="n-baleen"><circle cx="1084" cy="249" r="4" fill="#5c5cac"/><text class="lb" x="1084" y="267">Baleen whales</text></g>
<g class="node" id="n-skates"><circle cx="951" cy="212" r="4" fill="#a8643c"/><text class="lb" x="951" y="229">Skates</text></g>
<g class="node" id="n-domn"><circle cx="1040" cy="199" r="6" fill="#9454c4"/><text class="lb" x="1040" y="217">Demersal omnivores - other</text></g>
<g class="node" id="n-shoreb"><circle cx="1128" cy="183" r="3" fill="#5c7cc4"/><text class="lb" x="1128" y="201">Shorebirds - piscivorous</text></g>
<g class="node" id="n-seab"><circle cx="1009" cy="145" r="3" fill="#7c5c7c"/><text class="lb" x="1009" y="162">Seabirds</text></g>
<g class="node" id="n-odont"><circle cx="959" cy="95" r="3" fill="#8c8c6c"/><text class="lb" x="959" y="113">Odontocetes</text></g>
<g class="node" id="n-pinn"><circle cx="910" cy="107" r="5" fill="#c454c4"/><text class="lb" x="910" y="124">Pinnipeds</text></g>
<g class="node" id="n-lpel"><circle cx="859" cy="112" r="3" fill="#5454b4"/><text class="lb" x="860" y="129">Large pelagics (HMS)</text></g>
<g class="node" id="n-shkP"><circle cx="810" cy="91" r="3" fill="#b4c484"/><text class="lb" x="809" y="107">Sharks - pelagic</text></g>
<g class="node" id="n-shkC"><circle cx="760" cy="97" r="3" fill="#8c5c8c"/><text class="lb" x="760" y="113">Sharks - coastal</text></g>
<g class="node" id="n-medpel"><circle cx="710" cy="81" r="3.5" fill="#80cc52"/><text class="lb" x="710" y="98">Medium pelagic - other</text></g>
<g class="node" id="n-sfL"><circle cx="611" cy="109" r="3" fill="#5454c4"/><text class="lb" x="611" y="126">Summer flounder (L)</text></g>
<g class="node" id="n-sfS"><circle cx="561" cy="154" r="3" fill="#a46c4c"/><text class="lb" x="561" y="171">Summer flounder (S)</text></g>
<g class="node" id="n-hake"><circle cx="512" cy="159" r="5" fill="#b45c5c"/><text class="lb" x="512" y="176">Hake</text></g>
<g class="node" id="n-codL"><circle cx="461" cy="137" r="3" fill="#c48c54"/><text class="lb" x="461" y="155">Atlantic cod (L)</text></g>
<g class="node" id="n-dpisc"><circle cx="660" cy="171" r="6" fill="#4c5cb4"/><text class="lb" x="661" y="189">Demersal piscivores - other</text></g>
<g class="node" id="n-wkM"><circle cx="641" cy="187" r="3" fill="#a4c4e4"/><text class="lb" x="641" y="203">Weakfish (M)</text></g>
<g class="node" id="n-codM"><circle cx="730" cy="190" r="3" fill="#c4d4b4"/><text class="lb" x="730" y="207">Atlantic cod (M)</text></g>
<g class="node" id="n-sbM"><circle cx="553" cy="193" r="3" fill="#64b494"/><text class="lb" x="553" y="210">Striped bass (M)</text></g>
<g class="node" id="n-wkS"><circle cx="597" cy="194" r="3" fill="#c444a4"/><text class="lb" x="597" y="211">Weakfish (S)</text></g>
<g class="node" id="n-sdL"><circle cx="411" cy="145" r="5" fill="#a4a444"/><text class="lb" x="411" y="161">Spiny dogfish (L)</text></g>
<g class="node" id="n-sdS"><circle cx="361" cy="156" r="3" fill="#64c4a4"/><text class="lb" x="362" y="173">Spiny dogfish (S)</text></g>
<g class="node" id="n-wkL"><circle cx="312" cy="174" r="3" fill="#44a444"/><text class="lb" x="313" y="190">Weakfish (L)</text></g>
<g class="node" id="n-sbL"><circle cx="262" cy="173" r="3" fill="#d48c54"/><text class="lb" x="262" y="190">Striped bass (L)</text></g>
<g class="node" id="n-bfS"><circle cx="113" cy="121" r="3" fill="#4c4c7c"/><text class="lb" x="113" y="139">Bluefish (S)</text></g>
<g class="node" id="n-bfM"><circle cx="162" cy="124" r="3" fill="#54b454"/><text class="lb" x="162" y="142">Bluefish (M)</text></g>
<g class="node" id="n-bfL"><circle cx="212" cy="111" r="4" fill="#54b454"/><text class="lb" x="213" y="129">Bluefish (L)</text></g>
</g>
</svg>
